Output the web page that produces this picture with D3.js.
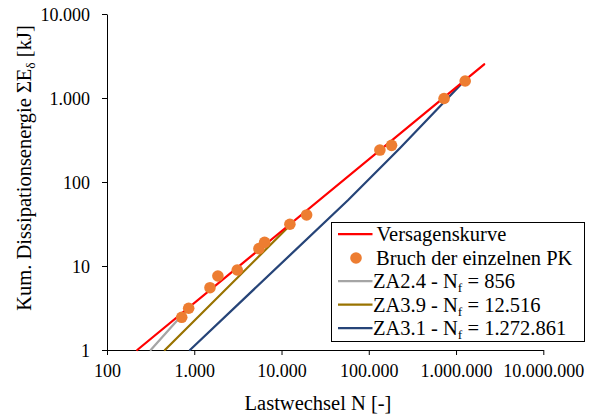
<!DOCTYPE html>
<html><head><meta charset="utf-8">
<script src="https://cdn.jsdelivr.net/npm/d3@7"></script>
<style>
html,body{margin:0;padding:0;background:#fff;}
</style></head>
<body><svg id="c" width="594" height="416"></svg>
<script>
// ---- data ----
const xTicks = [100, 1000, 10000, 100000, 1000000, 10000000];
const yTicks = [1, 10, 100, 1000, 10000];
const xTickLabels = ["100", "1.000", "10.000", "100.000", "1.000.000", "10.000.000"];
const yTickLabels = ["1", "10", "100", "1.000", "10.000"];

// Versagenskurve (failure curve)
const redN = [222, 2100000];
const redE = [1, 2518];
// fracture points of the individual specimens
const ptN = [718, 863, 1514, 1866, 3109, 5508, 6397, 12470, 19390, 134000, 182400, 728700, 1272861];
const ptE = [2.45, 3.14, 5.52, 7.60, 8.96, 16.1, 19.1, 31.4, 40.5, 240, 273, 986, 1593];
// ZA2.4
const grayN = [317, 856];
const grayE = [1, 3.17];
// ZA3.9
const goldN = [461, 12516];
const goldE = [1, 30.5];
// ZA3.1
const blueN = [893, 58070, 227000, 1272861];
const blueE = [1, 61.1, 252, 1637];

const legendLabels = ["Versagenskurve", "Bruch der einzelnen PK", "ZA2.4 - N", "ZA3.9 - N", "ZA3.1 - N"];
const legendSub = ["", "", "f", "f", "f"];
const legendTail = ["", "", " = 856", " = 12.516", " = 1.272.861"];
const colors = {red:"#FF0000", orange:"#ED7D31", gray:"#A5A5A5", gold:"#997300", blue:"#264478"};

// ---- drawing ----
const FONT = "'Liberation Serif', 'Times New Roman', serif";
const svg = d3.select("#c").style("font-family", FONT);
const x = d3.scaleLog().domain([100, 1e7]).range([107, 543.3]);
const y = d3.scaleLog().domain([1, 10000]).range([350, 14]);

// axes
const xAxis = d3.axisBottom(x).tickValues(xTicks).tickSize(5).tickSizeOuter(0)
  .tickFormat((d,i)=>xTickLabels[i]);
const gx = svg.append("g").attr("transform","translate(0,350)").call(xAxis)
  .attr("font-family", null).style("font-family", FONT);
gx.select(".domain").attr("stroke","#000").attr("stroke-width",1);
gx.selectAll(".tick line").attr("stroke","#000");
gx.selectAll(".tick text").style("font-family", FONT).style("font-size","18px").attr("fill","#000")
  .attr("dy","0").attr("y",27);

const yAxis = d3.axisLeft(y).tickValues(yTicks).tickSize(5).tickSizeOuter(0)
  .tickFormat((d,i)=>yTickLabels[i]);
const gy = svg.append("g").attr("transform","translate(107,0)").call(yAxis)
  .attr("font-family", null).style("font-family", FONT);
gy.select(".domain").attr("stroke","#000").attr("stroke-width",1);
gy.selectAll(".tick line").attr("stroke","#000");
gy.selectAll(".tick text").style("font-family", FONT).style("font-size","18px").attr("fill","#000")
  .attr("x",-17).attr("dy","0.34em");

// lines
const line = d3.line().x(d=>x(d[0])).y(d=>y(d[1]));
function drawLine(N, E, col){
  svg.append("path").datum(N.map((n,i)=>[n,E[i]]))
    .attr("d", line).attr("fill","none").attr("stroke", col)
    .attr("stroke-width", 2.25).attr("stroke-linecap","round");
}
drawLine(grayN, grayE, colors.gray);
drawLine(goldN, goldE, colors.gold);
drawLine(blueN, blueE, colors.blue);
drawLine(redN, redE, colors.red);

// points
svg.append("g").selectAll("circle").data(ptN.map((n,i)=>[n,ptE[i]])).join("circle")
  .attr("cx", d=>x(d[0])).attr("cy", d=>y(d[1])).attr("r", 5.8).attr("fill", colors.orange);

// axis titles
svg.append("text").attr("x", 318).attr("y", 410).attr("text-anchor","middle")
  .style("font-family", FONT).style("font-size","20.5px").text("Lastwechsel N [-]");
const yt = svg.append("text").attr("transform","translate(31,168) rotate(-90)")
  .attr("text-anchor","middle").style("font-family", FONT).style("font-size","20.5px");
yt.append("tspan").text("Kum. Dissipationsenergie ΣE");
yt.append("tspan").style("font-size","13.5px").attr("dy","4").text("δ");
yt.append("tspan").attr("dy","-4").text(" [kJ]");

// legend
const lg = svg.append("g");
lg.append("rect").attr("x",331.5).attr("y",222.5).attr("width",253).attr("height",119)
  .attr("fill","#fff").attr("stroke","#000").attr("stroke-width",1);
const rowY = [234, 258, 281, 304.5, 328];
const legCols = [colors.red, colors.orange, colors.gray, colors.gold, colors.blue];
const textX = [376.5, 376, 373, 373, 373];
legendLabels.forEach((lab,i)=>{
  if(i===1){
    lg.append("circle").attr("cx",356).attr("cy",rowY[i]).attr("r",5.8).attr("fill",legCols[i]);
  } else {
    lg.append("line").attr("x1",338).attr("x2",372.5).attr("y1",rowY[i]).attr("y2",rowY[i])
      .attr("stroke",legCols[i]).attr("stroke-width",2.25);
  }
  const t = lg.append("text").attr("x",textX[i]).attr("y",rowY[i]+7)
    .style("font-family", FONT).style("font-size","20.5px");
  t.append("tspan").text(lab);
  if(legendSub[i]){
    t.append("tspan").style("font-size","13.5px").attr("dy","4").text(legendSub[i]);
    t.append("tspan").attr("dy","-4").text(legendTail[i]);
  }
});
</script></body></html>
